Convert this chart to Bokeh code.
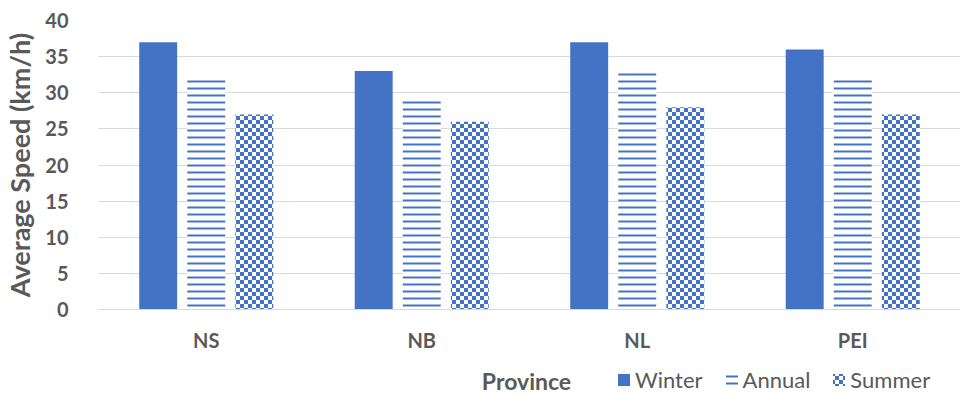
import base64
from bokeh.plotting import figure
from bokeh.layouts import column
from bokeh.models import (ColumnDataSource, FactorRange, Range1d, Legend, LegendItem,
                          Label, ImageURLTexture)
from bokeh.transform import dodge
from bokeh.core.properties import value
from bokeh.embed import file_html
from bokeh.resources import INLINE

provinces = ["NS", "NB", "NL", "PEI"]
winter = [37, 33, 37, 36]
annual = [32, 29, 33, 32]
summer = [27, 26, 28, 27]
y_ticks = [0, 5, 10, 15, 20, 25, 30, 35, 40]
series_names = ["Winter", "Annual", "Summer"]
x_title = "Province"
y_title = "Average Speed (km/h)"

BLUE = "#4472C4"
TEXT = "#595959"
GRID = "#D9D9D9"
FONT = "Lato"

src = ColumnDataSource(dict(prov=provinces, winter=winter, annual=annual, summer=summer))


def checker_texture():
    svg = ("<svg xmlns='http://www.w3.org/2000/svg' width='8' height='8'>"
           "<rect width='8' height='8' fill='white'/>"
           f"<rect width='4' height='4' fill='{BLUE}'/>"
           f"<rect x='4' y='4' width='4' height='4' fill='{BLUE}'/></svg>")
    url = "data:image/svg+xml;base64," + base64.b64encode(svg.encode()).decode()
    return ImageURLTexture(url=url, repetition="repeat")


def style(i):
    if i == 0:
        return dict(fill_color=BLUE, line_color=None)
    if i == 1:
        return dict(fill_color="white", line_color=None, hatch_pattern="horizontal_line",
                    hatch_color=BLUE, hatch_scale=7, hatch_weight=2)
    return dict(fill_color="white", line_color=None, hatch_pattern=value("checker"),
                hatch_extra={"checker": checker_texture()})


x_range = FactorRange(*provinces)

p = figure(width=962, height=360, x_range=x_range, y_range=Range1d(0, 40),
           output_backend="svg", toolbar_location=None,
           min_border_left=97, min_border_right=2, min_border_top=20, min_border_bottom=51)
p.outline_line_color = None

off = 0.223
bw = 0.176
cols = ["winter", "annual", "summer"]
offsets = [-off, 0, off]
for i, (c, o) in enumerate(zip(cols, offsets)):
    p.vbar(x=dodge("prov", o, range=x_range), top=c, width=bw, source=src, **style(i))

p.xgrid.grid_line_color = None
p.ygrid.grid_line_color = GRID
p.ygrid.grid_line_width = 1

p.yaxis.ticker = y_ticks
p.yaxis.axis_line_color = None
p.yaxis.major_tick_line_color = None
p.yaxis.minor_tick_line_color = None
p.yaxis.major_label_text_font = FONT
p.yaxis.major_label_text_font_style = "bold"
p.yaxis.major_label_text_font_size = "20px"
p.yaxis.major_label_text_color = TEXT
p.yaxis.major_label_standoff = 24
p.yaxis.axis_label = y_title
p.yaxis.axis_label_text_font = FONT
p.yaxis.axis_label_text_font_style = "bold"
p.yaxis.axis_label_text_font_size = "27px"
p.yaxis.axis_label_text_color = TEXT
p.yaxis.axis_label_standoff = 6

p.xaxis.axis_line_color = GRID
p.xaxis.major_tick_line_color = None
p.xaxis.minor_tick_line_color = None
p.xaxis.major_label_text_font = FONT
p.xaxis.major_label_text_font_style = "bold"
p.xaxis.major_label_text_font_size = "20px"
p.xaxis.major_label_text_color = TEXT
p.xaxis.major_label_standoff = 12

# legend strip below the chart (frame aligned with the main chart's frame)
q = figure(width=962, height=34, x_range=x_range, y_range=Range1d(-34, 0),
           output_backend="svg", toolbar_location=None,
           min_border_left=0, min_border_right=0, min_border_top=0, min_border_bottom=0)
q.axis.visible = False
q.grid.visible = False
q.outline_line_color = None

items = []
for i, (name, c, o) in enumerate(zip(series_names, cols, offsets)):
    # same bars, out of this strip's visible range: they only feed the legend
    r = q.vbar(x=dodge("prov", o, range=x_range), top=c, width=bw, source=src, **style(i))
    items.append(LegendItem(label=name, renderers=[r]))

legend = Legend(items=items, orientation="horizontal", location=(518, 1),
                padding=0, margin=0, spacing=21, label_standoff=4,
                glyph_width=15, glyph_height=15,
                label_text_font=FONT, label_text_font_size="22px", label_text_color=TEXT,
                border_line_color=None, background_fill_alpha=0)
q.add_layout(legend, "center")

q.add_layout(Label(x=428, y=14, x_units="screen", y_units="screen", text=x_title,
                   text_font=FONT, text_font_style="bold", text_font_size="23px",
                   text_color=TEXT, text_align="center", text_baseline="middle"))

layout = column(p, q, spacing=0)
open("out.html", "w").write(file_html(layout, INLINE))
